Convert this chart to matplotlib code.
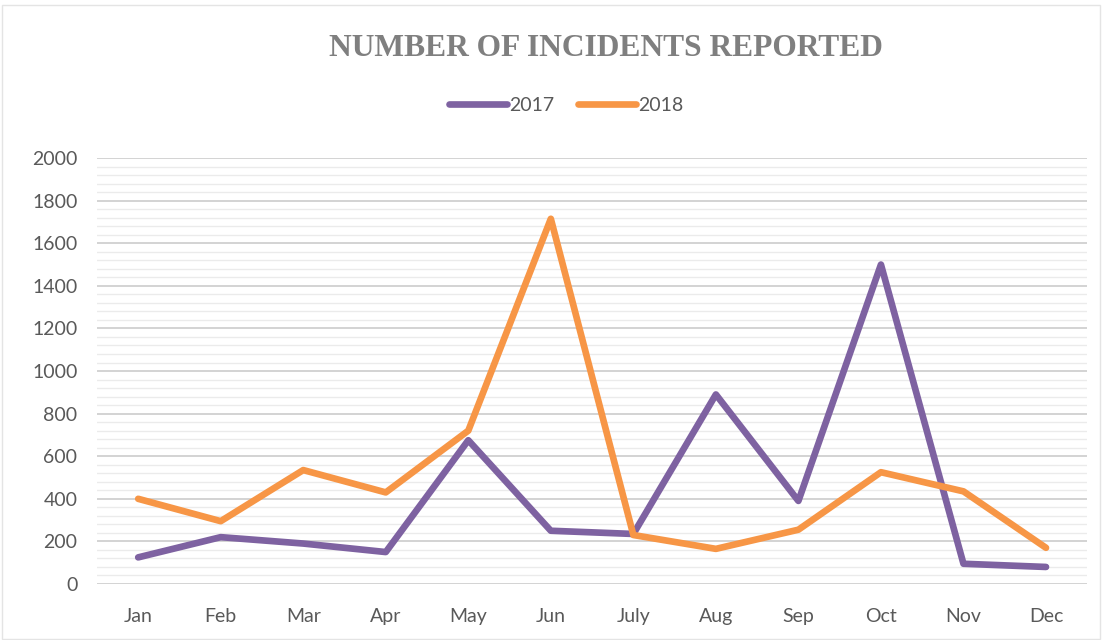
import numpy as np
import matplotlib.pyplot as plt
from matplotlib.ticker import MultipleLocator

months = ['Jan', 'Feb', 'Mar', 'Apr', 'May', 'Jun', 'July', 'Aug', 'Sep', 'Oct', 'Nov', 'Dec']
y2017 = [125, 220, 190, 150, 675, 250, 235, 890, 390, 1500, 95, 80]
y2018 = [400, 295, 535, 430, 720, 1715, 230, 165, 255, 525, 435, 170]

purple = '#7E62A1'
orange = '#F79646'
text_gray = '#595959'

plt.rcParams['font.family'] = ['Lato', 'DejaVu Sans']

fig = plt.figure(figsize=(11.14, 6.4), dpi=100)
ax = fig.add_axes([0.087, 0.0875, 0.889, 0.6655])

x = np.arange(len(months))
ax.plot(x, y2017, color=purple, lw=4.8, solid_capstyle='round', solid_joinstyle='round', label='2017')
ax.plot(x, y2018, color=orange, lw=4.8, solid_capstyle='round', solid_joinstyle='round', label='2018')

ax.set_xlim(-0.5, len(months) - 0.5)
ax.set_ylim(0, 2000)
ax.yaxis.set_major_locator(MultipleLocator(200))
ax.yaxis.set_minor_locator(MultipleLocator(40))
ax.grid(which='major', axis='y', color='#D0D0D0', lw=1.3)
ax.grid(which='minor', axis='y', color='#EBEBEB', lw=1.0)
ax.set_axisbelow(True)
ax.set_xticks(x)
ax.set_xticklabels(months)
ax.tick_params(axis='both', which='both', length=0, labelsize=14, colors=text_gray)
ax.tick_params(axis='x', pad=17)
ax.tick_params(axis='y', pad=14)
for s in ax.spines.values():
    s.set_visible(False)

fig.text(0.5435, 0.924, 'NUMBER OF INCIDENTS REPORTED', ha='center', va='center',
         fontsize=22.7, fontweight='bold', color='#7F7F7F', family='Liberation Serif')

fig.legend(loc='center', bbox_to_anchor=(0.508, 0.835), ncol=2, frameon=False,
           fontsize=14, handlelength=3.0, columnspacing=1.2, handletextpad=0.1,
           labelcolor=text_gray)

fig.patches.append(plt.Rectangle((0.002, 0.002), 0.985, 0.99, transform=fig.transFigure,
                                 fill=False, edgecolor='#E4E4E4', lw=1))

fig.savefig('out.png', dpi=100)
